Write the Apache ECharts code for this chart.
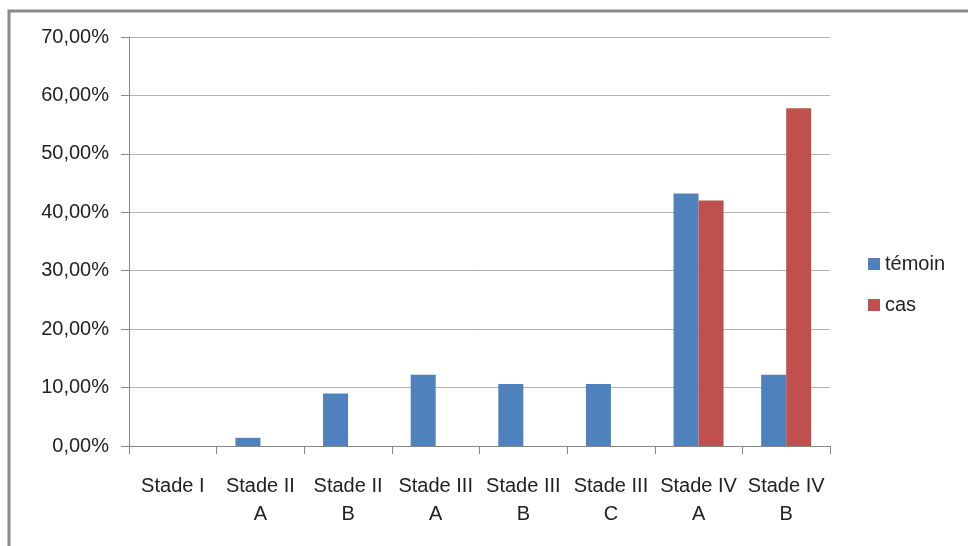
<!DOCTYPE html>
<html>
<head>
<meta charset="utf-8">
<script src="https://cdn.jsdelivr.net/npm/echarts@6/dist/echarts.min.js"></script>
<style>
  html, body { margin: 0; padding: 0; background: #fff; }
  #chart { width: 968px; height: 546px; }
</style>
</head>
<body>
<div id="chart"></div>
<script>
// categories on the x axis (two lines each)
const categories = ['Stade I', 'Stade II\nA', 'Stade II\nB', 'Stade III\nA', 'Stade III\nB', 'Stade III\nC', 'Stade IV\nA', 'Stade IV\nB'];
// values in percent
const temoin = [0, 1.4, 9.0, 12.2, 10.6, 10.6, 43.2, 12.2];
const cas = [0, 0, 0, 0, 0, 0, 42.0, 57.8];

const chart = echarts.init(document.getElementById('chart'));

const option = {
    animation: false,
    textStyle: { fontFamily: 'Liberation Sans, Arial, sans-serif' },
    graphic: [
        {
            type: 'rect',
            shape: { x: 9, y: 11, width: 1000, height: 600 },
            style: { fill: 'none', stroke: '#8a8a8a', lineWidth: 3 },
            silent: true
        }
    ],
    grid: { left: 129, right: 138, top: 37, bottom: 100 },
    legend: {
        orient: 'vertical',
        left: 863,
        top: 249,
        icon: 'rect',
        itemWidth: 12,
        itemHeight: 12,
        itemGap: 21,
        textStyle: { fontSize: 20, color: '#222' },
        data: ['témoin', 'cas']
    },
    xAxis: {
        type: 'category',
        data: categories,
        axisLine: { lineStyle: { color: '#888', width: 1 } },
        axisTick: { show: true, length: 8, lineStyle: { color: '#888' } },
        axisLabel: { fontSize: 20, color: '#222', margin: 26, lineHeight: 28, interval: 0 }
    },
    yAxis: {
        type: 'value',
        min: 0,
        max: 70,
        interval: 10,
        axisLine: { show: true, lineStyle: { color: '#888' } },
        axisTick: { show: true, length: 8, lineStyle: { color: '#888' } },
        splitLine: { lineStyle: { color: '#b3b3b3' } },
        axisLabel: {
            fontSize: 20,
            color: '#222',
            margin: 20,
            formatter: (v) => v.toFixed(2).replace('.', ',') + '%'
        }
    },
    series: [
        {
            name: 'témoin',
            type: 'bar',
            data: temoin,
            barWidth: 25,
            barGap: '0%',
            itemStyle: { color: '#4f81bd' }
        },
        {
            name: 'cas',
            type: 'bar',
            data: cas,
            barWidth: 25,
            barGap: '0%',
            itemStyle: { color: '#c0504d' }
        }
    ]
};
chart.setOption(option);
</script>
</body>
</html>
